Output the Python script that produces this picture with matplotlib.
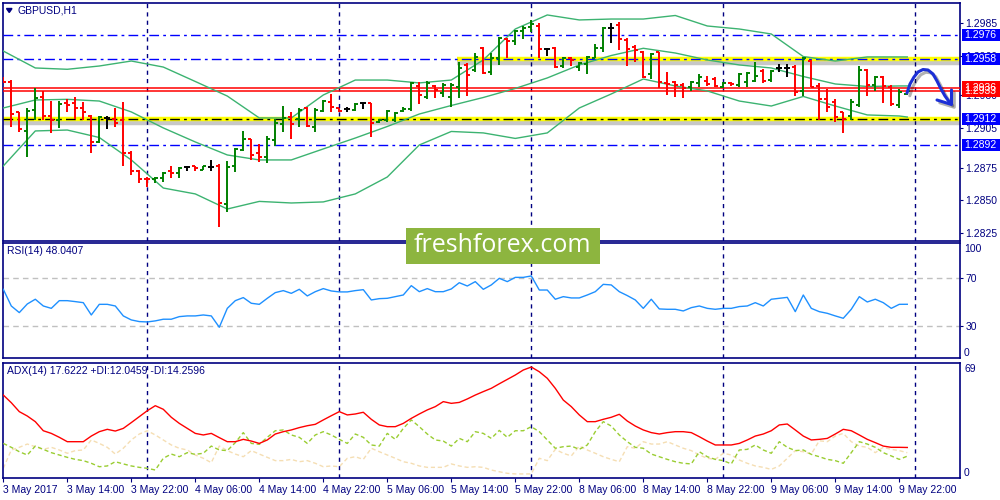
import matplotlib
matplotlib.use('Agg')
import matplotlib.pyplot as plt
import matplotlib.patheffects as pe
from matplotlib.patches import Rectangle, Polygon
from matplotlib.transforms import blended_transform_factory
import numpy as np

# GBPUSD H1, 3 May 06:00 .. 9 May 23:00
opens = [
    1.29438, 1.29404, 1.29174, 1.29029, 1.29189, 1.29286, 1.29145, 1.29113, 1.29240, 1.29244,
    1.29202, 1.29145, 1.28948, 1.29126, 1.29120, 1.29113, 1.28859, 1.28726, 1.28665, 1.28661,
    1.28668, 1.28726, 1.28711, 1.28752, 1.28762, 1.28732, 1.28757, 1.28764, 1.28473, 1.28764,
    1.28884, 1.28966, 1.28859, 1.28828, 1.28961, 1.29080, 1.29133, 1.29118, 1.29202, 1.29062,
    1.29181, 1.29252, 1.29202, 1.29194, 1.29189, 1.29240, 1.29240, 1.29097, 1.29113, 1.29113,
    1.29181, 1.29196, 1.29372, 1.29286, 1.29372, 1.29316, 1.29286, 1.29366, 1.29532, 1.29494,
    1.29659, 1.29481, 1.29583, 1.29728, 1.29715, 1.29791, 1.29824, 1.29831, 1.29651, 1.29664,
    1.29526, 1.29587, 1.29519, 1.29537, 1.29587, 1.29664, 1.29811, 1.29837, 1.29722, 1.29671,
    1.29628, 1.29461, 1.29628, 1.29392, 1.29400, 1.29379, 1.29366, 1.29392, 1.29410, 1.29425,
    1.29366, 1.29395, 1.29379, 1.29400, 1.29410, 1.29486, 1.29417, 1.29507, 1.29507, 1.29519,
    1.29334, 1.29562, 1.29372, 1.29270, 1.29252, 1.29171, 1.29143, 1.29227, 1.29494, 1.29379,
    1.29443, 1.29366, 1.29227, 1.29313]
highs = [
    1.29443, 1.29417, 1.29174, 1.29202, 1.29359, 1.29334, 1.29257, 1.29257, 1.29270, 1.29286,
    1.29252, 1.29151, 1.29145, 1.29145, 1.29202, 1.29252, 1.28879, 1.28732, 1.28676, 1.28676,
    1.28719, 1.28762, 1.28757, 1.28764, 1.28762, 1.28764, 1.28808, 1.28777, 1.28800, 1.28897,
    1.29029, 1.28968, 1.28930, 1.28991, 1.29120, 1.29219, 1.29174, 1.29202, 1.29214, 1.29202,
    1.29265, 1.29311, 1.29202, 1.29214, 1.29240, 1.29240, 1.29244, 1.29118, 1.29189, 1.29176,
    1.29214, 1.29404, 1.29404, 1.29410, 1.29379, 1.29397, 1.29392, 1.29557, 1.29545, 1.29621,
    1.29671, 1.29621, 1.29747, 1.29735, 1.29798, 1.29831, 1.29875, 1.29849, 1.29664, 1.29671,
    1.29595, 1.29595, 1.29557, 1.29603, 1.29689, 1.29824, 1.29849, 1.29857, 1.29740, 1.29684,
    1.29638, 1.29621, 1.29633, 1.29476, 1.29410, 1.29392, 1.29410, 1.29461, 1.29450, 1.29443,
    1.29400, 1.29400, 1.29468, 1.29481, 1.29557, 1.29501, 1.29494, 1.29537, 1.29537, 1.29532,
    1.29595, 1.29570, 1.29392, 1.29347, 1.29270, 1.29176, 1.29270, 1.29524, 1.29501, 1.29448,
    1.29448, 1.29379, 1.29347, 1.29334]
lows = [
    1.29400, 1.29057, 1.29019, 1.28828, 1.29113, 1.29113, 1.29011, 1.29049, 1.29176, 1.29120,
    1.29113, 1.28863, 1.28940, 1.29042, 1.29057, 1.28764, 1.28694, 1.28635, 1.28604, 1.28635,
    1.28638, 1.28668, 1.28668, 1.28726, 1.28726, 1.28732, 1.28726, 1.28300, 1.28409, 1.28719,
    1.28879, 1.28808, 1.28795, 1.28783, 1.28917, 1.29023, 1.28966, 1.29062, 1.29057, 1.29023,
    1.29176, 1.29176, 1.29176, 1.29171, 1.29184, 1.29196, 1.28986, 1.29087, 1.29100, 1.29100,
    1.29176, 1.29181, 1.29234, 1.29270, 1.29278, 1.29286, 1.29214, 1.29278, 1.29295, 1.29481,
    1.29461, 1.29456, 1.29532, 1.29583, 1.29684, 1.29728, 1.29785, 1.29583, 1.29603, 1.29507,
    1.29507, 1.29526, 1.29486, 1.29463, 1.29583, 1.29633, 1.29697, 1.29646, 1.29526, 1.29557,
    1.29435, 1.29425, 1.29359, 1.29303, 1.29290, 1.29283, 1.29334, 1.29366, 1.29374, 1.29366,
    1.29354, 1.29374, 1.29366, 1.29366, 1.29400, 1.29392, 1.29404, 1.29481, 1.29443, 1.29298,
    1.29298, 1.29366, 1.29113, 1.29176, 1.29100, 1.29011, 1.29113, 1.29214, 1.29298, 1.29334,
    1.29240, 1.29219, 1.29206, 1.29303]
closes = [
    1.29404, 1.29158, 1.29044, 1.29184, 1.29278, 1.29143, 1.29113, 1.29232, 1.29225, 1.29202,
    1.29176, 1.28943, 1.29138, 1.29126, 1.29087, 1.28859, 1.28726, 1.28661, 1.28661, 1.28673,
    1.28711, 1.28706, 1.28749, 1.28752, 1.28749, 1.28762, 1.28757, 1.28478, 1.28757, 1.28892,
    1.28966, 1.28846, 1.28828, 1.28966, 1.29087, 1.29126, 1.29080, 1.29189, 1.29067, 1.29189,
    1.29260, 1.29214, 1.29184, 1.29194, 1.29234, 1.29240, 1.29087, 1.29113, 1.29184, 1.29164,
    1.29196, 1.29397, 1.29303, 1.29392, 1.29341, 1.29379, 1.29379, 1.29507, 1.29456, 1.29595,
    1.29468, 1.29583, 1.29735, 1.29715, 1.29791, 1.29816, 1.29842, 1.29654, 1.29651, 1.29519,
    1.29587, 1.29570, 1.29545, 1.29595, 1.29664, 1.29811, 1.29811, 1.29730, 1.29654, 1.29646,
    1.29443, 1.29613, 1.29400, 1.29385, 1.29379, 1.29359, 1.29400, 1.29443, 1.29385, 1.29374,
    1.29392, 1.29385, 1.29461, 1.29468, 1.29450, 1.29410, 1.29486, 1.29507, 1.29507, 1.29324,
    1.29583, 1.29366, 1.29270, 1.29214, 1.29138, 1.29118, 1.29252, 1.29494, 1.29379, 1.29443,
    1.29374, 1.29232, 1.29324, 1.29330]

# Bollinger bands, read every 4th bar
band_idx = list(range(0, 113, 4)) + [113]
bb_upper = [1.29638, 1.29509, 1.29499, 1.29524, 1.29562, 1.29516, 1.29406, 1.29295, 1.29128, 1.29128,
            1.29303, 1.29417, 1.29417, 1.29395, 1.29417, 1.29570, 1.29806, 1.29913, 1.29875, 1.29882,
            1.29882, 1.29909, 1.29829, 1.29806, 1.29768, 1.29596, 1.29562, 1.29593, 1.29593, 1.29593]
bb_middle = [1.29204, 1.29265, 1.29270, 1.29257, 1.29174, 1.29052, 1.28945, 1.28846, 1.28808, 1.28808,
             1.28892, 1.28975, 1.29063, 1.29158, 1.29223, 1.29284, 1.29353, 1.29433, 1.29532, 1.29604,
             1.29659, 1.29623, 1.29570, 1.29532, 1.29509, 1.29444, 1.29387, 1.29368, 1.29372, 1.29372]
bb_lower = [1.28762, 1.29029, 1.29036, 1.28979, 1.28808, 1.28594, 1.28549, 1.28434, 1.28492, 1.28480,
            1.28488, 1.28549, 1.28678, 1.28922, 1.29025, 1.29014, 1.28972, 1.29014, 1.29204, 1.29311,
            1.29425, 1.29372, 1.29334, 1.29257, 1.29219, 1.29292, 1.29219, 1.29151, 1.29143, 1.29135]

rsi = [60.7, 46.6, 41, 48.3, 52.3, 46.6, 44.6, 51.1, 51.1, 50.3,
       49.4, 39, 48, 48, 46.6, 38.2, 34.8, 33.4, 33.1, 34,
       35.4, 35.4, 37.6, 38.2, 38.2, 39, 38.2, 28.6, 44.6, 51.1,
       53.7, 48.9, 48, 53.1, 57.9, 59.6, 57.3, 60.7, 55.1, 58.7,
       61.3, 59.3, 58.5, 58.5, 59.6, 60.4, 51.7, 52.8, 53.1, 54.5,
       55.9, 63.8, 58.7, 61.3, 58.7, 58.7, 61, 66.3, 63.5, 67.2,
       60.7, 64.4, 70, 67.2, 70.8, 70.8, 72, 60.1, 60.1, 52.3,
       54.5, 53.4, 53.4, 55.9, 58.7, 64.9, 64.4, 58.7, 55.4, 51.7,
       44.6, 52.3, 44.1, 43.8, 43.8, 42.4, 45.2, 46.6, 44.6, 43.8,
       44.6, 44.6, 46.1, 46.6, 49.4, 46.6, 52.3, 53.1, 53.9, 41.8,
       55.9, 44.6, 41.8, 40.4, 38.2, 36.2, 43.8, 54.5, 50, 52.3,
       49.4, 44.6, 48, 48.04]

adx = [51.1, 46.2, 40.5, 37.7, 34.1, 28.3, 26.6, 24.1, 21.3, 21.3,
       21.3, 24.9, 27.7, 29.2, 28.1, 29.8, 33.5, 37.3, 41.1, 44.3,
       42, 36.9, 33, 29.8, 26.6, 25.6, 26.6, 23.9, 21.3, 21.3,
       22.8, 21.7, 20.2, 22.4, 26.2, 27.7, 28.8, 30.3, 31.5, 32.4,
       35.2, 37.9, 40.5, 38.4, 39, 40.1, 35.6, 32, 30.9, 30.9,
       33, 36.2, 39, 41.6, 43.7, 46.9, 45.8, 46.4, 48.6, 51.1,
       53.3, 55.4, 58.3, 61.1, 63.9, 67.1, 69, 66, 61.8, 55.4,
       47.9, 43.7, 38.4, 34.1, 34.1, 35.6, 36.9, 38.8, 34.5, 31.3,
       28.8, 27.1, 26.2, 27.1, 27.7, 27.7, 27.1, 24.5, 21.7, 19.2,
       19.2, 19.2, 20.2, 22.4, 24.9, 26.2, 28.3, 32, 32.6, 28.8,
       24.9, 22.4, 22.8, 23.4, 26.2, 29.2, 28.3, 25.6, 22.8, 20.7,
       18.5, 17.7, 17.7, 17.6]
plus_di = [20.2, 17.7, 14.9, 12.8, 18.5, 16.4, 14.3, 12.8, 11.3, 10,
           9.2, 7.5, 5.3, 5.8, 8.5, 7.1, 5.8, 4.9, 4.3, 3.2,
           10.7, 13.4, 11.7, 14.3, 13.2, 13.9, 18.5, 16, 15.6, 20.7,
           27.1, 20.2, 19.6, 24.1, 28.3, 28.8, 25.6, 24.1, 20.2, 25.6,
           27.7, 25.6, 22.8, 20.2, 26.2, 24.1, 19.2, 18.5, 26.6, 22.8,
           29.8, 35.2, 30.9, 26.2, 22.4, 21.7, 18.5, 23.4, 21.3, 27.7,
           26.6, 23.4, 28.5, 24.1, 28.3, 28.3, 30.9, 27.7, 22.4, 17.1,
           18.1, 18.5, 16.4, 19.2, 27.7, 34.1, 31.3, 25.6, 21.3, 17.7,
           17.1, 13.4, 11.7, 10, 8.5, 7.5, 7.1, 14.9, 11.7, 10,
           9.2, 7.1, 16, 16.4, 19.2, 16, 13.9, 21.3, 17.7, 15.6,
           16, 13.2, 11.7, 10, 9.2, 7.5, 14.3, 21.3, 19.8, 17.7,
           14.3, 12.2, 10, 12.05]
minus_di = [4.3, 16, 17.7, 19.8, 18.1, 16.4, 17.7, 16, 13.9, 15.6,
            16, 22.4, 20.2, 17.7, 13.4, 17.1, 22.4, 26.2, 28.3, 25.6,
            22.4, 19.2, 17.1, 16, 12.8, 10.7, 7.9, 18.5, 15.6, 13.4,
            11.7, 15.6, 13.4, 11.3, 9.2, 9.2, 10, 8.5, 9.2, 7.5,
            5.3, 5.8, 5.3, 10.7, 11.7, 10, 17.1, 14.9, 12.8, 10.7,
            8.5, 7.5, 5.8, 4.9, 4.9, 4.9, 7.1, 5.8, 4.9, 5.3,
            4.9, 3.2, 2.1, 1.1, 0.7, 0.7, 0.7, 10.7, 9.2, 16.4,
            13.9, 12.2, 18.5, 16, 13.9, 11.7, 10, 8.5, 18.1, 17.1,
            21.3, 19.8, 19.8, 21.3, 19.2, 17.1, 15.6, 12.8, 10.7, 10,
            13.9, 12.8, 9.6, 7.5, 5.8, 4.9, 3.6, 5.8, 10.7, 15.6,
            14.9, 13.4, 21.9, 21.3, 24.9, 26.6, 21.3, 18.5, 17.7, 14.3,
            17.7, 16.4, 15.6, 14.26]

time_labels = ['3 May 2017', '3 May 14:00', '3 May 22:00', '4 May 06:00', '4 May 14:00',
               '4 May 22:00', '5 May 06:00', '5 May 14:00', '5 May 22:00', '8 May 06:00',
               '8 May 14:00', '8 May 22:00', '9 May 06:00', '9 May 14:00', '9 May 22:00']
day_starts = [18, 42, 66, 90, 114]
blue_levels = [1.2976, 1.2958, 1.2892]
support = 1.2912
resist_start = 56.7
ask_price = 1.2936
bid_price = 1.2933
price_ticks = [1.2825, 1.2850, 1.2875, 1.2905, 1.2930, 1.2960, 1.2985]
box_labels = [(1.2976, '#0000FF'), (1.2958, '#0000FF'), (1.2912, '#0000FF'),
              (1.2892, '#0000FF'), (1.2936, '#FF0000'), (1.2933, '#FF0000')]

NAVY = '#000080'
GREEN = '#008000'
BAND = '#3CB371'
plt.rcParams['font.family'] = ['Liberation Sans', 'DejaVu Sans']

fig = plt.figure(figsize=(10, 5), dpi=100)
ax = fig.add_axes([0.0025, 0.519, 0.9575, 0.476])
ax_rsi = fig.add_axes([0.0025, 0.284, 0.9575, 0.231])
ax_adx = fig.add_axes([0.0025, 0.044, 0.9575, 0.231])

xlim = (-0.1, 119.59)
for a in (ax, ax_rsi, ax_adx):
    a.set_xlim(*xlim)
    for s in a.spines.values():
        s.set_color(NAVY)
        s.set_linewidth(1.2)
    for d in day_starts:
        a.axvline(d - 0.04, color=NAVY, lw=1, ls=(0, (3, 3)), zorder=1)
    a.yaxis.tick_right()
    a.tick_params(axis='y', colors=NAVY, labelsize=7.5, length=2, pad=2, width=0.8)

ax.set_ylim(1.28194, 1.30008)
ax_rsi.set_ylim(2.6, 100.3)
ax_adx.set_ylim(-1.9, 71.9)

# --- price panel ---
shadow = [pe.SimpleLineShadow(offset=(0, -3), shadow_color='black', alpha=0.22), pe.Normal()]
ax.axhline(support, color='#FFFF00', lw=3.2, zorder=2, path_effects=shadow)
ax.hlines(blue_levels[1], resist_start, xlim[1], color='#FFFF00', lw=3.2, zorder=2, path_effects=shadow)
for lv in blue_levels:
    ax.axhline(lv, color='#0000FF', lw=1, ls=(0, (7, 3, 2, 3)), zorder=3)
ax.axhline(support, color='black', lw=1, ls=(0, (7, 3, 2, 3)), zorder=3)
ax.axhline(ask_price, color='red', lw=1.1, zorder=3)
ax.axhline(bid_price, color='red', lw=1.1, zorder=3)

for series in (bb_upper, bb_middle, bb_lower):
    ax.plot(band_idx, series, color=BAND, lw=1, zorder=4)

x = np.arange(len(opens))
o = np.array(opens); h = np.array(highs); l = np.array(lows); c = np.array(closes)
cols = np.where(c > o, GREEN, np.where(c < o, 'red', 'black'))
ax.vlines(x, l, h, colors=cols, lw=1.4, zorder=5)
ax.hlines(o, x - 0.38, x, colors=cols, lw=1.4, zorder=5)
ax.hlines(c, x, x + 0.38, colors=cols, lw=1.4, zorder=5)

ax.set_yticks(price_ticks)
ax.set_yticklabels([f'{p:.4f}' for p in price_ticks])
ax.set_xticks([])

trans = blended_transform_factory(fig.transFigure, ax.transData)
box_h = 0.00092
for p, col in box_labels:
    fig.add_artist(Rectangle((0.9615, p - box_h / 2), 0.0385, box_h, transform=trans,
                             facecolor=col, edgecolor='none', zorder=5))
    fig.text(0.9645, p, f'{p:.4f}', transform=trans, color='white', fontsize=7.5,
             va='center', ha='left', zorder=6)

# --- RSI panel ---
ax_rsi.plot(x, rsi, color='#1E90FF', lw=1, zorder=3)
for lv in (70, 30):
    ax_rsi.axhline(lv, color='#C0C0C0', lw=1, ls=(0, (4, 3)), zorder=2)
ax_rsi.set_yticks([70, 30])
ax_rsi.set_yticklabels(['70', '30'])
ax_rsi.set_xticks([])
rt = blended_transform_factory(ax_rsi.transAxes, ax_rsi.transData)
ax_rsi.text(1.0042, 94.8, '100', transform=rt, color=NAVY, fontsize=7.5, va='center')
ax_rsi.text(1.0042, 6.9, '0', transform=rt, color=NAVY, fontsize=7.5, va='center')

# --- ADX panel ---
ax_adx.plot(x, minus_di, color='#F5DEB3', lw=1, ls=(0, (3, 2)), zorder=2)
ax_adx.plot(x, plus_di, color='#9ACD32', lw=1, ls=(0, (3, 2)), zorder=3)
ax_adx.plot(x, adx, color='red', lw=1, zorder=4)
ax_adx.set_yticks([])
at = blended_transform_factory(ax_adx.transAxes, ax_adx.transData)
ax_adx.text(1.0042, 67.7, '69', transform=at, color=NAVY, fontsize=7.5, va='center')
ax_adx.text(1.0042, 1.5, '0', transform=at, color=NAVY, fontsize=7.5, va='center')
ax_adx.set_xticks(range(0, 113, 8))
ax_adx.set_xticklabels(time_labels, ha='left')
ax_adx.tick_params(axis='x', colors=NAVY, labelsize=7.5, length=3, pad=2, width=0.8)

# --- overlay: captions, watermark, hand-drawn arrow ---
ov = fig.add_axes([0, 0, 1, 1])
ov.set_xlim(0, 1000)
ov.set_ylim(500, 0)
ov.axis('off')
ov.patch.set_alpha(0)
ov.add_patch(Polygon([(6.5, 8.5), (12, 8.5), (9.25, 12.5)], closed=True, color=NAVY))
ov.text(18, 10.5, 'GBPUSD,H1', color=NAVY, fontsize=7.5, va='center')
ov.text(7, 251.5, 'RSI(14) 48.0407', color=NAVY, fontsize=7.5, va='center')
ov.text(7, 371.5, 'ADX(14) 17.6222 +DI:12.0459 -DI:14.2596', color=NAVY, fontsize=7.5, va='center')

ov.add_patch(Rectangle((405.5, 228), 194, 36, facecolor='#8DB53F', edgecolor='none', zorder=10))
ov.text(502, 245, 'freshforex.com', color='white', fontsize=18, family='Open Sans',
        ha='center', va='center', zorder=11)

arrow_fx = [pe.SimpleLineShadow(offset=(2, -2), shadow_color='black', alpha=0.3), pe.Normal()]
ov.plot([907, 910, 914, 918, 923, 928, 933, 937, 941, 945, 950],
        [93, 84, 77, 72, 69.5, 70, 74, 81, 89, 96, 103],
        color='#1C2FD6', lw=2.2, solid_capstyle='round', solid_joinstyle='round',
        path_effects=arrow_fx, zorder=12)
ov.plot([937, 951.5, 951.5], [100, 104.5, 90], color='#1C2FD6', lw=2.2,
        solid_capstyle='round', solid_joinstyle='round', path_effects=arrow_fx, zorder=12)

fig.savefig('out.png', dpi=100)
